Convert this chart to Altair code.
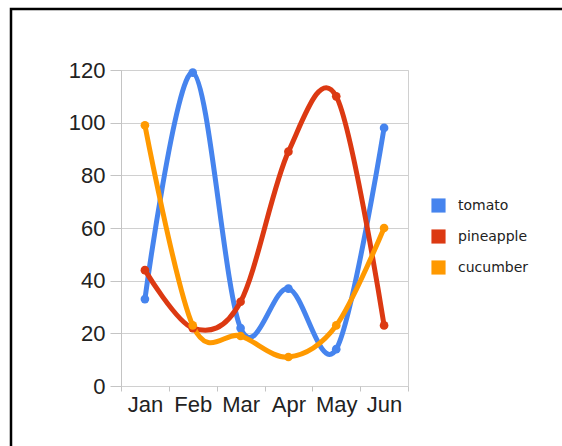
import altair as alt
import pandas as pd

months = ["Jan", "Feb", "Mar", "Apr", "May", "Jun"]
series_names = ["tomato", "pineapple", "cucumber"]
tomato = [33, 119, 22, 37, 14, 98]
pineapple = [44, 22, 32, 89, 110, 23]
cucumber = [99, 23, 19, 11, 23, 60]
colors = ["#4684ee", "#dc3912", "#ff9900"]
y_ticks = [0, 20, 40, 60, 80, 100, 120]

rows = []
for name, vals in zip(series_names, [tomato, pineapple, cucumber]):
    for m, v in zip(months, vals):
        rows.append({"month": m, "value": v, "series": name})
df = pd.DataFrame(rows)

FONT = "Liberation Sans"

x_enc = alt.X(
    "month:N", sort=months, title=None,
    scale=alt.Scale(paddingInner=0, paddingOuter=0),
    axis=alt.Axis(labelAngle=0, tickBand="extent", grid=False, domain=False,
                  labelFontSize=22, labelColor="#222", tickColor="#c4c4c4",
                  tickSize=5, labelPadding=3, labelFont=FONT),
)
y_enc = alt.Y(
    "value:Q", title=None,
    scale=alt.Scale(domain=[0, 120], nice=False),
    axis=alt.Axis(values=y_ticks, labelFontSize=22, labelColor="#222",
                  gridColor="#d0d0d0", tickColor="#c4c4c4", domainColor="#c4c4c4",
                  tickSize=11, labelPadding=5, labelFont=FONT),
)
color_enc = alt.Color(
    "series:N", title=None,
    scale=alt.Scale(domain=series_names, range=colors),
    legend=alt.Legend(orient="none", legendX=310, legendY=128,
                      symbolType="square", symbolSize=200, symbolOpacity=1,
                      symbolStrokeWidth=0, labelFontSize=14, labelColor="#222",
                      labelFont="DejaVu Sans", rowPadding=16, labelOffset=12),
)

base = alt.Chart(df).encode(x=x_enc, y=y_enc, color=color_enc, detail="series:N")

lines = base.mark_line(interpolate="cardinal", strokeWidth=5)
points = base.mark_point(filled=True, size=75, opacity=1)

frame = alt.Chart(pd.DataFrame({"a": [0]})).mark_rect(
    filled=False, stroke="black", strokeWidth=2.5
).encode(
    x=alt.value(-110), x2=alt.value(520),
    y=alt.value(-61), y2=alt.value(450),
)

chart = alt.layer(lines, points, frame).properties(
    width=287, height=316,
    autosize=alt.AutoSizeParams(type="none"),
    padding={"left": 121, "top": 70, "right": 154, "bottom": 60},
    background="white",
).configure_view(stroke="#d0d0d0", strokeWidth=1)

chart.save("out.html", embed_options={"renderer": "svg", "actions": False})
